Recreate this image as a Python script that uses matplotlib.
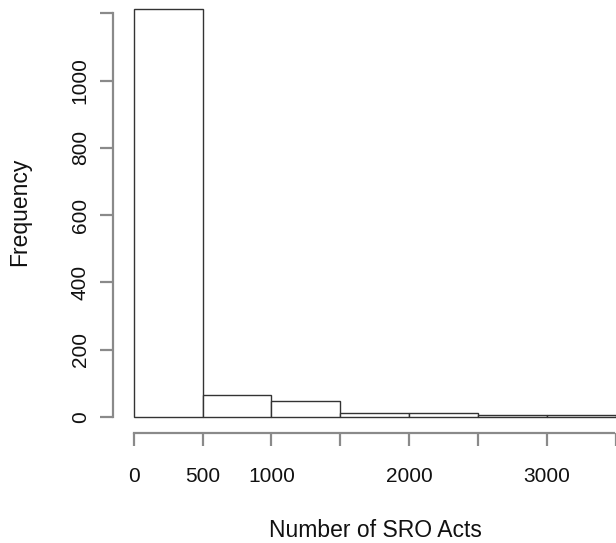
import matplotlib
matplotlib.use("Agg")
import matplotlib.pyplot as plt

# histogram of SRO acts, bins of 500
bin_edges = [0, 500, 1000, 1500, 2000, 2500, 3000, 3500]
counts = [1213, 64, 46, 11, 10, 5, 4]
x_ticks = [0, 500, 1000, 1500, 2000, 2500, 3000, 3500]
x_labels = ["0", "500", "1000", "", "2000", "", "3000", ""]
y_ticks = [0, 200, 400, 600, 800, 1000, 1200]
y_labels = ["0", "200", "400", "600", "800", "1000", ""]

plt.rcParams["font.family"] = ["Liberation Sans", "DejaVu Sans"]

fig = plt.figure(figsize=(6.16, 5.43), dpi=100)
ax = fig.add_axes([0.1839, 0.2031, 0.8161, 0.7969])

widths = [b - a for a, b in zip(bin_edges[:-1], bin_edges[1:])]
ax.bar(bin_edges[:-1], counts, width=widths, align="edge",
       facecolor="white", edgecolor="#333333", linewidth=1.0)

ax.set_xlim(-148, 3484)
ax.set_ylim(-47.6, 1240)

for side in ["top", "right"]:
    ax.spines[side].set_visible(False)
for side in ["left", "bottom"]:
    ax.spines[side].set_color("#8a8a8a")
    ax.spines[side].set_linewidth(1.6)
ax.spines["left"].set_bounds(0, 1200)
ax.spines["bottom"].set_bounds(0, 3484)

ax.set_xticks(x_ticks)
ax.set_xticklabels(x_labels)
ax.set_yticks(y_ticks)
ax.set_yticklabels(y_labels, rotation=90, va="center")

ax.tick_params(axis="both", direction="out", length=9.5, width=1.6,
               color="#8a8a8a", labelsize=15, labelcolor="#111111")
ax.tick_params(axis="x", pad=15)
ax.tick_params(axis="y", pad=7.5)

ax.set_xlabel("Number of SRO Acts", fontsize=16.5, color="#111111",
              va="center", ha="center")
ax.set_ylabel("Frequency", fontsize=16.5, color="#111111",
              va="center", ha="center")
ax.xaxis.set_label_coords(0.522, -0.226)
ax.yaxis.set_label_coords(-0.186, 0.511)

fig.savefig("out.png", dpi=100)
